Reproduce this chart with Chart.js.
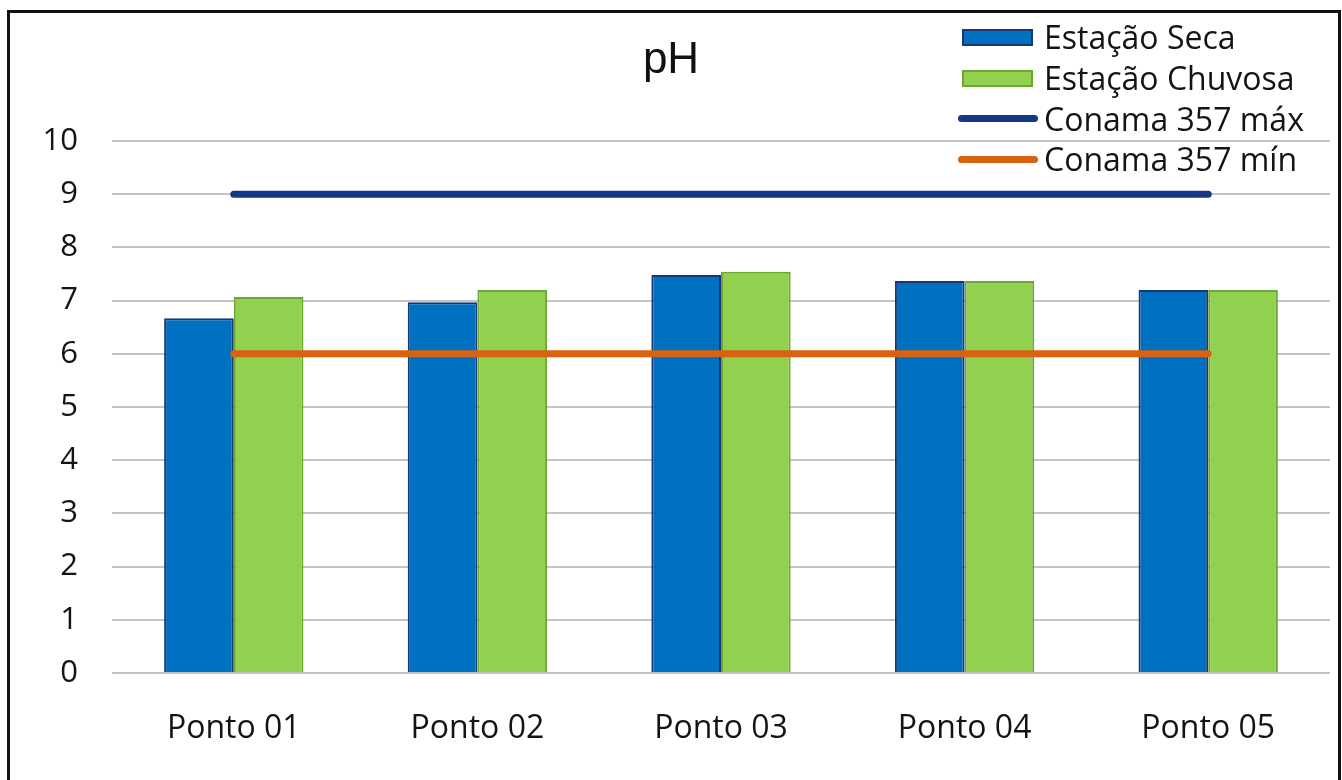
<!DOCTYPE html>
<html lang="pt">
<head>
<meta charset="utf-8">
<title>pH</title>
<script src="https://cdn.jsdelivr.net/npm/chart.js@4/dist/chart.umd.min.js"></script>
<style>
  html, body { margin: 0; padding: 0; background: #fff; }
  #wrap { position: relative; width: 1342px; height: 780px; overflow: hidden; font-family: "Open Sans", sans-serif; }
  #c { position: absolute; left: 0; top: 0; }
  #frame { position: absolute; left: 7px; top: 10px; width: 1328px; height: 800px; border: 3px solid #111; border-bottom: none; pointer-events: none; }
  #title { position: absolute; left: 0; width: 1342px; top: 36px; text-align: center; font-family: "Liberation Sans", Arial, sans-serif; font-size: 44px; color: #111; line-height: 1; }
  #legend { position: absolute; left: 956px; top: 17px; }
  .item { position: relative; height: 40.7px; }
  .sym { position: absolute; left: 0; top: 50%; }
  .box { left: 6px; width: 71px; height: 17px; margin-top: -8.5px; box-sizing: border-box; border: 2px solid; }
  .ln { left: 2px; width: 80px; height: 7px; margin-top: -3.5px; border-radius: 4px; }
  .lbl { position: absolute; left: 88px; top: 50%; transform: translateY(-50%); font-size: 32px; color: #141414; white-space: nowrap; line-height: 1; }
</style>
</head>
<body>
<div id="wrap">
  <canvas id="c" width="1342" height="780"></canvas>
  <div id="title">pH</div>
  <div id="legend"></div>
  <div id="frame"></div>
</div>
<script>
// Sampling points along the river
const categories = ["Ponto 01", "Ponto 02", "Ponto 03", "Ponto 04", "Ponto 05"];
// pH measured in the dry and rainy seasons
const seca = [6.67, 6.97, 7.48, 7.37, 7.2];
const chuvosa = [7.07, 7.2, 7.54, 7.37, 7.2];
// CONAMA 357 limits for pH
const conamaMax = [9, 9, 9, 9, 9];
const conamaMin = [6, 6, 6, 6, 6];
// Y axis ticks
const yTicks = [0, 1, 2, 3, 4, 5, 6, 7, 8, 9, 10];

const FONT = "'Open Sans', sans-serif";

const datasets = [
  { type: "bar", label: "Estação Seca", data: seca, backgroundColor: "#0070c0", borderColor: "#1a3677", borderWidth: 2, order: 2 },
  { type: "bar", label: "Estação Chuvosa", data: chuvosa, backgroundColor: "#92d050", borderColor: "#6aa833", borderWidth: 2, order: 2 },
  { type: "line", label: "Conama 357 máx", data: conamaMax, borderColor: "#123887", borderWidth: 7, pointRadius: 0, borderCapStyle: "round", fill: false, order: 0 },
  { type: "line", label: "Conama 357 mín", data: conamaMin, borderColor: "#d8620f", borderWidth: 7, pointRadius: 0, borderCapStyle: "round", fill: false, order: 0 }
];

new Chart(document.getElementById("c"), {
  data: { labels: categories, datasets: datasets },
  options: {
    responsive: false,
    animation: false,
    events: [],
    layout: { padding: { top: 141, right: 12, left: 0, bottom: 0 } },
    datasets: { bar: { categoryPercentage: 0.572, barPercentage: 1.0 } },
    plugins: { legend: { display: false }, title: { display: false }, tooltip: { enabled: false } },
    scales: {
      x: {
        offset: true,
        grid: { display: false },
        border: { display: false },
        ticks: { font: { family: FONT, size: 32 }, color: "#141414", padding: 29 },
        afterFit: s => { s.height = 107; }
      },
      y: {
        min: 0, max: 10,
        afterBuildTicks: s => { s.ticks = yTicks.map(v => ({ value: v })); },
        grid: { color: "#c4c4c4", lineWidth: 2, drawTicks: false },
        border: { display: false },
        ticks: { font: { family: FONT, size: 31 }, color: "#141414", padding: 34 },
        afterFit: s => { s.width = 112; }
      }
    }
  }
});

// Legend built from the same datasets
const legend = document.getElementById("legend");
datasets.forEach(d => {
  const row = document.createElement("div");
  row.className = "item";
  const sym = document.createElement("div");
  if (d.type === "bar") {
    sym.className = "sym box";
    sym.style.background = d.backgroundColor;
    sym.style.borderColor = d.borderColor;
  } else {
    sym.className = "sym ln";
    sym.style.background = d.borderColor;
  }
  const lbl = document.createElement("div");
  lbl.className = "lbl";
  lbl.textContent = d.label;
  row.appendChild(sym);
  row.appendChild(lbl);
  legend.appendChild(row);
});
</script>
</body>
</html>
